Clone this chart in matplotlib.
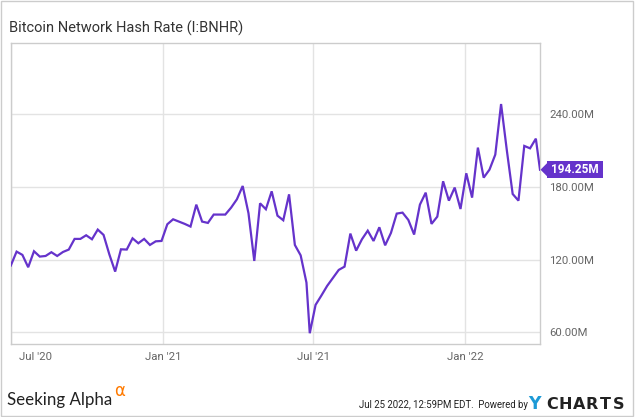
import matplotlib
matplotlib.use("Agg")
import matplotlib.pyplot as plt
import matplotlib.dates as mdates
import matplotlib.transforms as mtransforms
from matplotlib.patches import Rectangle, Polygon
import pandas as pd

# ---- data (values in millions, TH/s) ----
seg1_start = "2020-07-01"
seg1_values = [115.1, 126.6, 123.9, 113.7, 126.9, 122.5, 123.0, 126.1, 123.0, 126.3,
               128.3, 137.1, 137.1, 140.1, 136.8, 144.8, 140.4, 124.3, 110.1, 128.5,
               128.3, 137.6, 133.5, 137.1, 132.1, 135.1, 135.4, 149.2, 153.3, 151.4,
               149.5, 147.3, 165.4, 151.4, 150.3, 157.2, 157.2, 157.2, 162.9, 169.8,
               180.8, 158.3, 118.9, 166.5, 161.6, 176.4, 156.3, 152.5, 173.9, 132.1,
               123.5, 101.0]
dip_date = "2021-06-27"
dip_value = 59.2
seg2_start = "2021-07-04"
seg2_values = [82.6, 90.3, 98.3, 104.9, 111.5, 114.2, 141.5, 127.4, 136.8, 143.9,
               135.4, 146.7, 131.8, 142.0, 158.0, 158.8, 152.8, 140.7, 165.4, 175.3,
               149.5, 155.5, 184.7, 168.7, 179.5, 161.8, 191.3, 171.2, 212.5, 187.7,
               194.3, 206.7, 248.5, 210.0, 174.2, 168.7, 213.9, 211.9, 219.9]
last_date = "2022-04-01"
last_value = 194.25

y_ticks = [60, 120, 180, 240]
y_tick_labels = ["60.00M", "120.00M", "180.00M", "240.00M"]
x_ticks = ["2020-07-01", "2021-01-01", "2021-07-01", "2022-01-01"]
x_tick_labels = ["Jul '20", "Jan '21", "Jul '21", "Jan '22"]
title = "Bitcoin Network Hash Rate (I:BNHR)"

dates = (list(pd.date_range(seg1_start, periods=len(seg1_values), freq="7D"))
         + [pd.Timestamp(dip_date)]
         + list(pd.date_range(seg2_start, periods=len(seg2_values), freq="7D"))
         + [pd.Timestamp(last_date)])
values = seg1_values + [dip_value] + seg2_values + [last_value]

# ---- style ----
plt.rcParams["font.family"] = ["Roboto", "DejaVu Sans"]
PURPLE = "#6533CB"
W, H = 635, 417
fig = plt.figure(figsize=(W / 100, H / 100), dpi=100)
ax = fig.add_axes([10.8 / W, 1 - 344 / H, (540 - 10.8) / W, (344 - 43) / H])

ax.plot(dates, values, color=PURPLE, lw=1.6, solid_joinstyle="miter", zorder=3)
ax.set_xlim(pd.Timestamp(seg1_start), pd.Timestamp(last_date))
ax.set_ylim(50.3, 298.9)

ax.set_yticks(y_ticks)
ax.set_yticklabels(y_tick_labels)
ax.yaxis.tick_right()
ax.set_xticks([pd.Timestamp(d) for d in x_ticks])
ax.set_xticklabels(x_tick_labels)
ax.tick_params(axis="both", length=0, labelsize=8.2, labelcolor="#666666")
ax.tick_params(axis="y", pad=6.5)
ax.tick_params(axis="x", pad=6)
ax.grid(True, color="#e3e3e3", lw=1.0)
ax.set_axisbelow(True)
for s in ax.spines.values():
    s.set_color("#cccccc")
    s.set_linewidth(1.0)

# shift first x label right (clamped inside chart)
lbl0 = ax.get_xticklabels()[0]
lbl0.set_transform(lbl0.get_transform() + mtransforms.Affine2D().translate(24.5, 0))

# ---- last value badge ----
px, py = ax.transData.transform((mdates.date2num(pd.Timestamp(last_date)), last_value))
ident = mtransforms.IdentityTransform()
fig.patches.append(Rectangle((px + 6.5, py - 8.3), 56, 16.6, transform=ident,
                             facecolor=PURPLE, edgecolor="none", zorder=5, figure=fig))
fig.patches.append(Polygon([(px + 0.5, py), (px + 7, py + 6.5), (px + 7, py - 6.5)],
                           closed=True, transform=ident, facecolor=PURPLE,
                           edgecolor="none", zorder=5, figure=fig))
fig.text(px + 34.5, py, f"{last_value:.2f}M", transform=ident, ha="center", va="center",
         color="white", fontsize=8.5, fontweight="bold", zorder=6)

# ---- title ----
fig.text(8.7 / W, 1 - 32.3 / H, title, ha="left", va="baseline",
         fontsize=10.5, color="#333333")

# ---- footer ----
fig.text(7.3 / W, 1 - 405 / H, "Seeking Alpha", ha="left", va="baseline",
         fontsize=12.2, color="#222222", family=["Lato", "DejaVu Sans"])
fig.text(114.0 / W, 1 - 396 / H, "\u03b1", ha="left", va="baseline",
         fontsize=12, color="#ff7a00", family=["DejaVu Sans"])
fig.text(527.7 / W, 1 - 407.5 / H, "Jul 25 2022, 12:59PM EDT.  Powered by", ha="right",
         va="baseline", fontsize=6.9, color="#222222")
fig.text(528.5 / W, 1 - 409 / H, "Y", ha="left", va="baseline",
         fontsize=12.5, fontweight="bold", color="#1d9ad6", family=["DejaVu Sans"])
for i, ch in enumerate("CHARTS"):
    fig.text((545.5 + 13.3 * (i + 0.5)) / W, 1 - 409 / H, ch, ha="center", va="baseline",
             fontsize=11.5, fontweight="bold", color="#222222", family=["DejaVu Sans"])

# outer border
fig.patches.append(Rectangle((1, 1), W - 3, H - 2, transform=ident, facecolor="none",
                             edgecolor="#cccccc", lw=1.0, figure=fig))

fig.savefig("out.png", dpi=100)
